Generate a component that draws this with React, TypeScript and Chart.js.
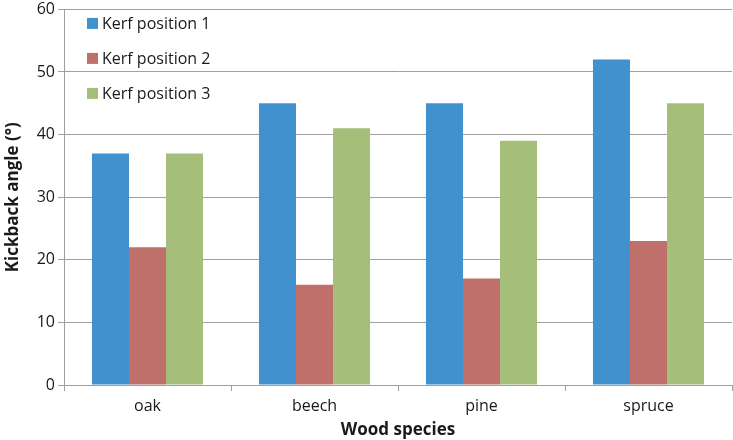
import React, { useEffect, useRef } from "react";
import { Chart, registerables } from "chart.js";

Chart.register(...registerables);

const categories = ["oak", "beech", "pine", "spruce"];
const seriesNames = ["Kerf position 1", "Kerf position 2", "Kerf position 3"];
const kerf1 = [37, 45, 45, 52];
const kerf2 = [22, 16, 17, 23];
const kerf3 = [37, 41, 39, 45];
const colors = ["#4191CF", "#C0706A", "#A5BF7A"];
const yTicks = [0, 10, 20, 30, 40, 50, 60];

const FONT = "'Open Sans', Lato, sans-serif";

const legendPlugin = {
  id: "insideLegend",
  afterDraw(chart: any) {
    const ctx = chart.ctx;
    const area = chart.chartArea;
    ctx.save();
    ctx.font = `16px ${FONT}`;
    ctx.textBaseline = "middle";
    ctx.textAlign = "left";
    chart.data.datasets.forEach((ds: any, i: number) => {
      const y = area.top + 14 + i * 35;
      const x = area.left + 23;
      ctx.fillStyle = ds.backgroundColor;
      ctx.fillRect(x, y - 5.5, 11, 11);
      ctx.fillStyle = "#1a1a1a";
      ctx.fillText(ds.label, x + 15, y + 1);
    });
    ctx.restore();
  },
};

export default function App() {
  const ref = useRef<HTMLCanvasElement>(null);
  useEffect(() => {
    document.body.style.margin = "0";
    const data = [kerf1, kerf2, kerf3];
    const chart = new Chart(ref.current!, {
      type: "bar",
      data: {
        labels: categories,
        datasets: seriesNames.map((n, i) => ({
          label: n,
          data: data[i],
          backgroundColor: colors[i],
          borderWidth: 0,
          categoryPercentage: 0.665,
          barPercentage: 1,
        })),
      },
      options: {
        animation: false,
        responsive: false,
        layout: { padding: { top: 0, right: 1, left: 0, bottom: 0 } },
        plugins: { legend: { display: false }, tooltip: { enabled: false } },
        scales: {
          x: {
            offset: true,
            grid: {
              offset: true,
              drawOnChartArea: false,
              drawTicks: true,
              tickLength: 6,
              color: "#a0a0a0",
            },
            border: { display: true, color: "#a0a0a0", width: 1 },
            ticks: { color: "#1a1a1a", font: { family: FONT, size: 16 }, padding: 6 },
            title: {
              display: true,
              text: "Wood species",
              color: "#1a1a1a",
              font: { family: FONT, size: 17, weight: "bold" },
              padding: { top: 0, bottom: 0 },
            },
            afterFit(scale: any) {
              scale.height = 55;
            },
          },
          y: {
            min: 0,
            max: 60,
            afterBuildTicks(scale: any) {
              scale.ticks = yTicks.map((v) => ({ value: v }));
            },
            grid: { color: "#a0a0a0", tickLength: 6, drawTicks: true },
            border: { display: true, color: "#a0a0a0", width: 1 },
            ticks: {
              color: "#1a1a1a",
              font: { family: FONT, size: 16, lineHeight: 0.8 },
              padding: 3,
            },
            title: {
              display: true,
              text: "Kickback angle (°)",
              color: "#1a1a1a",
              font: { family: FONT, size: 17, weight: "bold" },
              padding: { top: 3, bottom: 0 },
            },
            afterFit(scale: any) {
              scale.width = 64;
            },
          },
        },
      },
      plugins: [legendPlugin],
    });
    return () => chart.destroy();
  }, []);
  return <canvas ref={ref} width={733} height={440} style={{ display: "block" }} />;
}
